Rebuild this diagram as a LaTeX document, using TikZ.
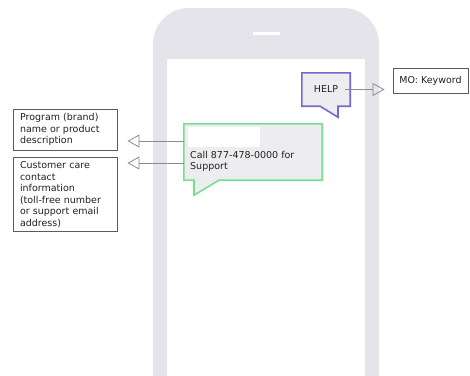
\documentclass[tikz,border=0pt]{standalone}
\usepackage{fontspec}
\setmainfont{DejaVu Sans}
\usepackage{xcolor}
\usetikzlibrary{shapes,arrows.meta,positioning,backgrounds}

\definecolor{phonegray}{HTML}{E4E4EA}
\definecolor{bubblegray}{HTML}{EDEDF0}
\definecolor{helppurple}{HTML}{7A66CC}
\definecolor{smsgreen}{HTML}{74E091}
\definecolor{linegray}{HTML}{8C8C8C}
\definecolor{boxgray}{HTML}{5C5C5C}
\definecolor{inkgray}{HTML}{222222}

\begin{document}
\begin{tikzpicture}[x=1pt, y=-1pt, node distance=7pt,
    font=\fontsize{9.5}{11.5}\selectfont, text=inkgray]
    \tikzstyle{infobox} = [rectangle, draw=boxgray, line width=0.9pt, fill=white,
        text width=90pt, inner xsep=7pt, inner ysep=4pt, align=left]
    \tikzstyle{bubble} = [line width=1.6pt, fill=bubblegray, line join=miter]
    \tikzstyle{pointer} = [draw=linegray, line width=0.8pt,
        -{Triangle[open, length=12pt, width=13pt]}]

    \useasboundingbox (0,0) rectangle (470,375);

    % phone outline, cut off at the bottom
    \begin{scope}[on background layer]
        \clip (0,0) rectangle (470,375);
        \fill[phonegray, rounded corners=36pt] (153,8) rectangle (379,420);
        \fill[white] (167,59) rectangle (365,420);
        \draw[white, line width=3pt] (253,33) -- (280,33);
    \end{scope}

    % incoming keyword
    \node (help) [minimum width=48pt, minimum height=33pt] at (326,89.5) {HELP};
    \node (mo) [rectangle, draw=boxgray, line width=0.9pt, fill=white,
        minimum width=75pt, minimum height=25pt] at (430.5,80.5) {MO: Keyword};

    % reply message
    \node (sms) [minimum width=138pt, minimum height=56pt] at (253,152) {};
    \node (smstext) [anchor=north west, inner sep=0pt, align=left] at (190,151)
        {Call 877-478-0000 for\\Support};

    \begin{scope}[on background layer]
        \draw[bubble, draw=helppurple] (help.north west) -- (help.north east)
            -- (help.south east) -- ([xshift=12pt]help.south) -- ++(0pt,-11pt)
            -- ([xshift=-6pt]help.south) -- (help.south west) -- cycle;
        \draw[bubble, draw=smsgreen] (sms.north west) -- (sms.north east)
            -- (sms.south east) -- ([xshift=-34pt]sms.south)
            -- ([xshift=-59pt,yshift=-15pt]sms.south)
            -- ([xshift=-59pt]sms.south) -- (sms.south west) -- cycle;
        \fill[white] (188,127) rectangle (260,147);
    \end{scope}

    % callouts
    \node (brand) [infobox, minimum height=41pt] at (65,129.5)
        {Program (brand)\\name or product\\description};
    \node (support) [infobox, below=of brand]
        {Customer care\\contact\\information\\(toll-free number\\or support email\\address)};

    \coordinate (brandtap) at (sms.west |- 0,141);
    \coordinate (supporttap) at (sms.west |- 0,163);
    \draw[pointer, shorten >=10pt] (brandtap) -- (brand.east |- brandtap);
    \draw[pointer, shorten >=10pt] (supporttap) -- (support.east |- supporttap);
    \draw[pointer, shorten <=-5pt, shorten >=8pt] (help.east) -- (help.east -| mo.west);
\end{tikzpicture}
\end{document}
